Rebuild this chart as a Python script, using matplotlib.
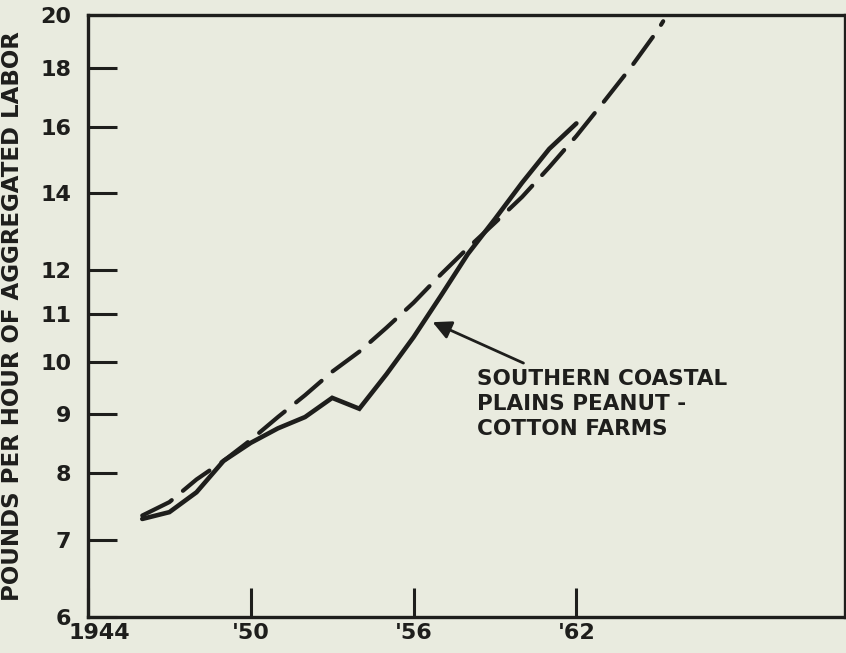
import numpy as np
import matplotlib
matplotlib.use("Agg")
import matplotlib.pyplot as plt
import matplotlib.transforms as mtransforms

# actual series, southern coastal plains peanut-cotton farms
years = [1946, 1947, 1948, 1949, 1950, 1951, 1952, 1953, 1954, 1955, 1956,
         1957, 1958, 1959, 1960, 1961, 1962]
output = [7.3, 7.4, 7.7, 8.2, 8.5, 8.75, 8.95, 9.3, 9.1, 9.75, 10.5,
          11.4, 12.4, 13.3, 14.3, 15.3, 16.1]

# trend (dashed)
trend_years = [1946, 1947, 1948, 1949, 1950, 1951, 1952, 1953, 1954, 1955,
               1956, 1957, 1958, 1959, 1960, 1961, 1962, 1963, 1964, 1965, 1965.2]
trend = [7.35, 7.55, 7.9, 8.2, 8.55, 8.95, 9.35, 9.8, 10.2, 10.7,
         11.25, 11.9, 12.55, 13.2, 13.9, 14.75, 15.7, 16.8, 18.0, 19.4, 19.75]

yticks = [6, 7, 8, 9, 10, 11, 12, 14, 16, 18, 20]
xticks = [1944, 1950, 1956, 1962]
xlabels = ["1944", "'50", "'56", "'62"]

ink = "#1e1e1c"
bg = "#e9ebdf"

plt.rcParams['font.family'] = ['DejaVu Sans']
plt.rcParams['font.weight'] = 'bold'

fig = plt.figure(figsize=(8.46, 6.53), dpi=100, facecolor=bg)
ax = fig.add_axes([0.104, 0.0551, 0.8948, 0.922], facecolor=bg)

ax.plot(years, output, color=ink, lw=3.3, solid_capstyle='round',
        solid_joinstyle='miter')
ax.plot(trend_years, trend, color=ink, lw=3.0, dashes=(8, 3.5),
        dash_capstyle='round')

ax.set_yscale('log')
ax.set_ylim(6, 20)
ax.set_xlim(1944, 1971.9)
ax.set_yticks(yticks)
ax.set_yticklabels([str(v) for v in yticks])
ax.yaxis.set_minor_locator(matplotlib.ticker.NullLocator())
ax.set_xticks(xticks)
ax.set_xticklabels(xlabels)

ax.tick_params(axis='both', direction='in', length=21, width=2.2,
               color=ink, labelcolor=ink, labelsize=16)
ax.tick_params(axis='y', pad=12)
ax.tick_params(axis='x', pad=4)
for s in ax.spines.values():
    s.set_linewidth(2.4)
    s.set_color(ink)

# nudge first x label right a bit like the original
lab0 = ax.get_xticklabels()[0]
lab0.set_transform(lab0.get_transform() +
                   mtransforms.ScaledTranslation(11 / 100, 0, fig.dpi_scale_trans))

ax.set_ylabel("POUNDS PER HOUR OF AGGREGATED LABOR", fontsize=16.5,
              fontweight='bold', color=ink, labelpad=12)

ax.annotate("", xy=(1956.7, 10.82), xytext=(1960.05, 9.97),
            arrowprops=dict(arrowstyle='-|>', color=ink, lw=2,
                            mutation_scale=28, shrinkA=0, shrinkB=0))
ax.text(1958.35, 9.85, "SOUTHERN COASTAL\nPLAINS PEANUT -\nCOTTON FARMS",
        fontsize=15.5, color=ink, va='top', ha='left', linespacing=1.32)

fig.savefig("out.png", dpi=100, facecolor=bg)
